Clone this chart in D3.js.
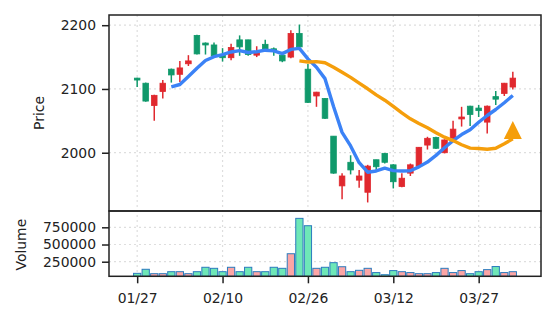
<!DOCTYPE html>
<html>
<head>
<meta charset="utf-8">
<script src="https://cdnjs.cloudflare.com/ajax/libs/d3/7.8.5/d3.min.js"></script>
<style>
	body { margin: 0; background: #fff; }
	svg text { font-family: "DejaVu Sans", sans-serif; font-size: 13.9px; fill: #222; }
</style>
</head>
<body>
<div class="candle-chart"></div>
<script>
// daily bars (index 0 = 01/27)
const opens = [2117, 2109, 2074, 2096, 2131, 2123, 2139.5, 2184, 2172, 2169,
	2154, 2149, 2177, 2177, 2153, 2170, 2163, 2153, 2150, 2187,
	2131, 2089, 2085, 2026, 1948, 1985, 1957, 1938, 1989, 1999,
	1981, 1947, 1968, 1979, 2012, 2024, 2000, 2023, 2053, 2073,
	2070, 2048, 2088, 2093, 2103];
const closes = [2114, 2081, 2090, 2109, 2122, 2133, 2144, 2155, 2169, 2152,
	2149, 2165, 2166, 2154, 2158, 2161, 2160, 2144, 2187, 2166,
	2079, 2095, 2054, 1968, 1963.5, 1973, 1963.5, 1979, 1978, 1985,
	1954.5, 1960, 1981, 2008.5, 2022.6, 2007, 2020, 2037, 2056, 2060,
	2066, 2073, 2084, 2109, 2117];
const highs = [2117.5, 2110, 2091, 2114, 2132, 2144, 2153, 2185, 2173, 2173,
	2164, 2171, 2184, 2177, 2167, 2177, 2165, 2154, 2192, 2201,
	2139, 2095.5, 2086, 2026, 1968, 1996, 1973, 1981, 1989, 1999.5,
	1982, 1968, 1983, 2009, 2025, 2025, 2021, 2050, 2072, 2073.5,
	2075, 2074, 2097, 2109.5, 2127];
const lows = [2103, 2080, 2050, 2085, 2110, 2111, 2136, 2154, 2154, 2151,
	2143, 2145, 2152, 2152, 2150, 2159, 2152, 2142, 2148, 2165,
	2078, 2072, 2053, 1967, 1927, 1966, 1945, 1922, 1972, 1983,
	1944, 1946, 1963.5, 1978, 2005, 2006, 1999, 2020, 2041, 2042,
	2056, 2030, 2075, 2089, 2099];
const volumes = [81000, 140000, 76000, 76000, 105000, 105000, 76000, 105000, 169000, 154000,
	105000, 169000, 105000, 169000, 105000, 105000, 169000, 154000, 366000, 880000,
	773000, 154000, 169000, 236000, 177000, 105000, 125000, 154000, 92000, 61000,
	121000, 105000, 92000, 76000, 76000, 92000, 154000, 92000, 121000, 76000,
	105000, 135000, 180000, 92000, 105000];

const tickIdx = [0, 10, 20, 30, 40];
const tickLabels = ["01/27", "02/10", "02/26", "03/12", "03/27"];
const priceTicks = [2000, 2100, 2200];
const volumeTicks = [250000, 500000, 750000];

// buy marker
const signalIdx = [44];
const signalPrice = [2035.6];

const width = 556, height = 322;
const left = 109, right = 541,
	priceTop = 15, priceBottom = 211,
	volBottom = 276.3;

const upColor = "#e0282e", downColor = "#10996b",
	upVol = "#fca5a5", downVol = "#6ee7b7";

const x = d3.scaleLinear()
	.domain([-3.3, 47.3])
	.range([left, right]);

const y = d3.scaleLinear()
	.domain([1908.6, 2216])
	.range([priceBottom, priceTop]);

const yv = d3.scaleLinear()
	.domain([38000, 987000])
	.range([volBottom, priceBottom]);

const step = x(1) - x(0);

const svg = d3.select(".candle-chart").append("svg")
	.attr("width", width)
	.attr("height", height);

// grid
const grid = svg.append("g")
	.attr("stroke", "#dedede")
	.attr("stroke-width", 1.2)
	.attr("stroke-dasharray", "2,3");

grid.selectAll(".vgrid")
	.data(tickIdx)
	.enter().append("line")
	.attr("x1", d => x(d))
	.attr("x2", d => x(d))
	.attr("y1", priceTop)
	.attr("y2", volBottom);

grid.selectAll(".pgrid")
	.data(priceTicks)
	.enter().append("line")
	.attr("x1", left)
	.attr("x2", right)
	.attr("y1", d => y(d))
	.attr("y2", d => y(d));

grid.selectAll(".vgrid2")
	.data(volumeTicks)
	.enter().append("line")
	.attr("x1", left)
	.attr("x2", right)
	.attr("y1", d => yv(d))
	.attr("y2", d => yv(d));

const bars = d3.range(closes.length);
const isUp = i => closes[i] >= opens[i];

// volume
svg.selectAll(".vol")
	.data(bars)
	.enter().append("rect")
	.attr("class", "vol")
	.attr("x", i => x(i) - step * 0.425)
	.attr("width", step * 0.85)
	.attr("y", i => yv(volumes[i]))
	.attr("height", i => volBottom - yv(volumes[i]))
	.attr("fill", i => isUp(i) ? upVol : downVol)
	.attr("stroke", "#2b7bbd")
	.attr("stroke-width", 1);

// candles
const candle = svg.selectAll(".candle")
	.data(bars)
	.enter().append("g")
	.attr("class", "candle");

candle.append("line")
	.attr("x1", i => x(i))
	.attr("x2", i => x(i))
	.attr("y1", i => y(highs[i]))
	.attr("y2", i => y(lows[i]))
	.attr("stroke", i => isUp(i) ? upColor : downColor)
	.attr("stroke-width", 1.5);

candle.append("rect")
	.attr("x", i => x(i) - 2.8)
	.attr("width", 5.6)
	.attr("y", i => y(Math.max(opens[i], closes[i])))
	.attr("height", i => Math.max(1.2, Math.abs(y(opens[i]) - y(closes[i]))))
	.attr("fill", i => isUp(i) ? upColor : downColor)
	.attr("stroke", i => isUp(i) ? upColor : downColor)
	.attr("stroke-width", 0.8);

// moving averages of the closes
function sma(n) {
	return bars.map(i => i < n - 1 ? null : d3.mean(closes.slice(i - n + 1, i + 1)));
}

const line = d3.line()
	.defined(d => d[1] !== null)
	.x(d => x(d[0]))
	.y(d => y(d[1]));

[{n: 5, color: "#3b82f6"}, {n: 20, color: "#f59e0b"}].forEach(m => {
	const vals = sma(m.n);
	svg.append("path")
		.datum(bars.map(i => [i, vals[i]]))
		.attr("d", line)
		.attr("fill", "none")
		.attr("stroke", m.color)
		.attr("stroke-width", 3.4)
		.attr("stroke-linejoin", "round");
});

svg.selectAll(".signal")
	.data(signalIdx)
	.enter().append("path")
	.attr("class", "signal")
	.attr("transform", (d, k) => `translate(${x(d)},${y(signalPrice[k])})`)
	.attr("d", "M0,-9L9,9L-9,9Z")
	.attr("fill", "#f59e0b");

// frames
svg.append("rect")
	.attr("x", left).attr("y", priceTop)
	.attr("width", right - left).attr("height", priceBottom - priceTop)
	.attr("fill", "none").attr("stroke", "#222").attr("stroke-width", 1.5);

svg.append("rect")
	.attr("x", left).attr("y", priceBottom)
	.attr("width", right - left).attr("height", volBottom - priceBottom)
	.attr("fill", "none").attr("stroke", "#222").attr("stroke-width", 1.5);

// axes
const priceAxis = svg.append("g")
	.attr("transform", `translate(${left},0)`)
	.call(d3.axisLeft(y).tickValues(priceTicks).tickSize(7).tickPadding(6)
		.tickFormat(d3.format("d")));

const volAxis = svg.append("g")
	.attr("transform", `translate(${left},0)`)
	.call(d3.axisLeft(yv).tickValues(volumeTicks).tickSize(7).tickPadding(6)
		.tickFormat(d3.format("d")));

const xAxis = svg.append("g")
	.attr("transform", `translate(0,${volBottom})`)
	.call(d3.axisBottom(x).tickValues(tickIdx).tickSize(7).tickPadding(10)
		.tickFormat((d, k) => tickLabels[k]));

[priceAxis, volAxis, xAxis].forEach(a => {
	a.select(".domain").remove();
	a.attr("color", "#222");
	a.selectAll(".tick line").attr("stroke-width", 1.5);
});

svg.append("text")
	.attr("transform", `translate(44,${(priceTop + priceBottom) / 2}) rotate(-90)`)
	.style("text-anchor", "middle")
	.text("Price");

svg.append("text")
	.attr("transform", `translate(26,${(priceBottom + volBottom) / 2 + 1}) rotate(-90)`)
	.style("text-anchor", "middle")
	.text("Volume");
</script>
</body>
</html>
